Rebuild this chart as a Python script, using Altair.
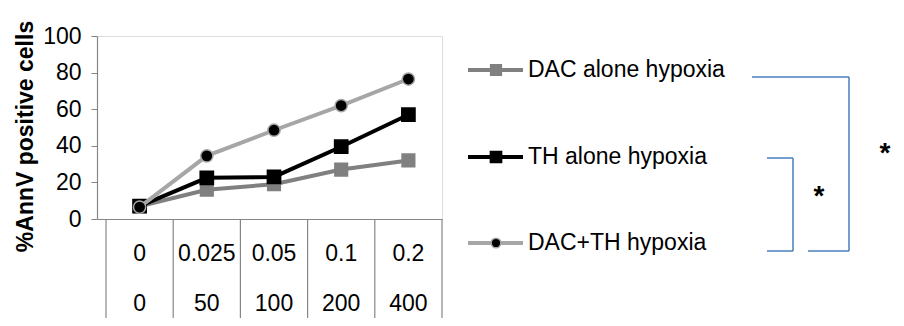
import altair as alt
import pandas as pd

# ---- data ----
dac_doses = ["0", "0.025", "0.05", "0.1", "0.2"]
th_doses = ["0", "50", "100", "200", "400"]
series_names = ["DAC alone hypoxia", "TH alone hypoxia", "DAC+TH hypoxia"]
dac_alone = [7, 16, 19, 27, 32]
th_alone = [7, 22.5, 23, 39.5, 57]
dac_th = [6.5, 34.5, 48.5, 62, 76.5]
y_ticks = [0, 20, 40, 60, 80, 100]
values = [dac_alone, th_alone, dac_th]

rows = []
for name, vals in zip(series_names, values):
    for i, v in enumerate(vals):
        rows.append({"idx": i, "series": name, "value": v})
df = pd.DataFrame(rows)

cat_df = pd.DataFrame({"idx": list(range(len(dac_doses))), "lab1": dac_doses, "lab2": th_doses})
sep_df = pd.DataFrame({"b": [i - 0.5 for i in range(len(dac_doses) + 1)]})

FONT = "Liberation Sans"
AX = "#868686"
W, H = 345, 183
FS = 23

xscale = alt.Scale(domain=[-0.634, 4.5], nice=False, zero=False)
xaxis = alt.Axis(labels=False, ticks=False, grid=False, title=None,
                 domainColor=AX, domainWidth=1.2)
xenc = alt.X("idx:Q", scale=xscale, axis=xaxis)
yaxis = alt.Axis(values=y_ticks, tickCount=6, grid=False, tickSize=6,
                 tickColor=AX, domainColor=AX, domainWidth=1.2,
                 labelFontSize=FS, labelColor="black", labelPadding=10,
                 labelFont=FONT, labelOverlap=False, labelFlush=False,
                 labelBound=False,
                 title="%AnnV positive cells", titleFontSize=23,
                 titleFont=FONT, titleFontWeight="bold", titleColor="black",
                 titleX=-72, titleY=100, titleAlign="center",
                 titleBaseline="middle")
yenc = alt.Y("value:Q", scale=alt.Scale(domain=[0, 100], nice=False), axis=yaxis)

styles = {
    "DAC alone hypoxia": dict(line="#808080", shape="square", fill="#808080", stroke="#808080", size=160, lsize=115),
    "TH alone hypoxia": dict(line="#000000", shape="square", fill="#000000", stroke="#000000", size=175, lsize=125),
    "DAC+TH hypoxia": dict(line="#a6a6a6", shape="circle", fill="#000000", stroke="#a6a6a6", size=150, lsize=95),
}

base = alt.Chart(df)
layers = []

for name in series_names:
    s = styles[name]
    sub = base.transform_filter(alt.datum.series == name)
    layers.append(sub.mark_line(color=s["line"], strokeWidth=4).encode(x=xenc, y=yenc))
    layers.append(sub.mark_point(shape=s["shape"], filled=True, fill=s["fill"], opacity=1,
                                 stroke=s["stroke"], strokeWidth=1.5, size=s["size"]).encode(x=xenc, y=yenc))

# category grid below the axis
layers.append(alt.Chart(sep_df).mark_rule(color=AX, strokeWidth=1.2).encode(
    x=alt.X("b:Q", scale=xscale, axis=xaxis),
    y=alt.value(H), y2=alt.value(284)))
layers.append(alt.Chart(cat_df).mark_text(fontSize=FS, font=FONT, color="black", baseline="middle").encode(
    x=alt.X("idx:Q", scale=xscale, axis=xaxis), y=alt.value(218), text="lab1:N"))
layers.append(alt.Chart(cat_df).mark_text(fontSize=FS, font=FONT, color="black", baseline="middle").encode(
    x=alt.X("idx:Q", scale=xscale, axis=xaxis), y=alt.value(268), text="lab2:N"))

# legend
leg_y = [34, 121, 207]
for name, ly in zip(series_names, leg_y):
    s = styles[name]
    one = alt.Chart(pd.DataFrame({"series": [name]}))
    layers.append(one.mark_rule(color=s["line"], strokeWidth=4).encode(
        x=alt.value(371), x2=alt.value(426), y=alt.value(ly)))
    layers.append(one.mark_point(shape=s["shape"], filled=True, fill=s["fill"], opacity=1,
                                 stroke=s["stroke"], strokeWidth=1.5, size=s["lsize"]).encode(
        x=alt.value(399), y=alt.value(ly)))
    layers.append(one.mark_text(align="left", baseline="middle", fontSize=FS, font=FONT, color="black").encode(
        x=alt.value(431), y=alt.value(ly), text="series:N"))

# significance brackets
BL = "#4a7ebb"
br = alt.Chart(pd.DataFrame({"k": [0]}))
def seg(x1, y1, x2, y2):
    return br.mark_rule(color=BL, strokeWidth=1.5).encode(
        x=alt.value(x1), y=alt.value(y1), x2=alt.value(x2), y2=alt.value(y2))
layers += [
    seg(655, 41, 752, 41), seg(752, 41, 752, 215), seg(711, 215, 752, 215),
    seg(670, 122, 696, 122), seg(696, 122, 696, 215), seg(670, 215, 696, 215),
]
stars = pd.DataFrame({"t": ["*"]})
layers.append(alt.Chart(stars).mark_text(fontSize=28, fontWeight="bold", font=FONT, color="black",
                                         baseline="alphabetic").encode(
    x=alt.value(788), y=alt.value(126), text="t:N"))
layers.append(alt.Chart(stars).mark_text(fontSize=28, fontWeight="bold", font=FONT, color="black",
                                         baseline="alphabetic").encode(
    x=alt.value(722), y=alt.value(169), text="t:N"))

chart = alt.layer(*layers).properties(
    width=W, height=H,
    autosize=alt.AutoSizeParams(type="none"),
    padding={"left": 89, "top": 28, "right": 888 - 89 - W, "bottom": 99},
    background="white",
).configure_view(stroke=None).configure(font=FONT)

chart.save("out.html", embed_options={"renderer": "svg", "actions": False})
